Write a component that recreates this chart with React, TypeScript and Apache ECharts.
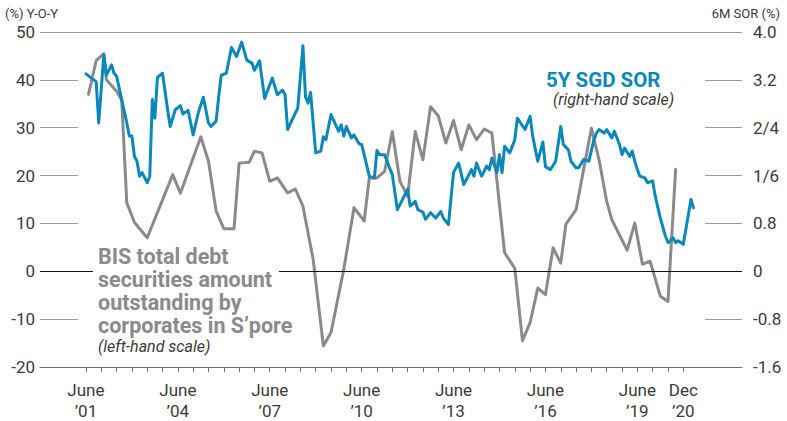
import { useEffect, useRef } from "react";
import * as echarts from "echarts";

// ---- Data ----
// BIS total debt securities amount outstanding by corporates in S'pore, % Y-O-Y (left scale)
const bisDates = [
  "2001-07", "2001-10", "2002-01", "2002-02", "2002-06", "2002-08", "2002-10", "2003-01", "2003-06",
  "2004-04", "2004-07", "2005-03", "2005-06", "2005-09", "2005-12", "2006-04", "2006-06", "2006-10",
  "2006-12", "2007-03", "2007-06", "2007-09", "2008-01", "2008-04", "2008-07", "2008-11", "2009-03",
  "2009-06", "2009-11", "2010-03", "2010-07", "2010-09", "2010-12", "2011-03", "2011-06", "2011-09",
  "2011-12", "2012-03", "2012-06", "2012-09", "2012-12", "2013-03", "2013-06", "2013-09", "2013-12",
  "2014-03", "2014-06", "2014-09", "2015-02", "2015-06", "2015-09", "2015-12", "2016-03", "2016-06",
  "2016-09", "2016-12", "2017-02", "2017-06", "2017-12", "2018-03", "2018-06", "2018-08", "2019-02",
  "2019-05", "2019-08", "2019-11", "2020-03", "2020-06", "2020-09",
];
const bisValues = [
  37, 44, 45.5, 40, 37.6, 35.8, 14.3, 10.2, 7.0,
  20.2, 16.3, 28.1, 23, 12.6, 8.9, 8.9, 22.6, 22.8,
  25.1, 24.7, 18.8, 19.5, 16.4, 17.2, 13.6, 2.5, -15.6,
  -12.8, 0.4, 13.3, 10.5, 19.5, 19.5, 20.9, 29.2, 18.8,
  15.7, 29.2, 23.3, 34.4, 32.5, 26.8, 31.5, 25.4, 30.6,
  27.5, 29.7, 28.9, 3.9, 0.6, -14.5, -10.7, -3.5, -4.9,
  4.9, 1.7, 9.8, 12.9, 29.9, 23.3, 14.6, 10.8, 4.4,
  10.1, 1.5, 2.1, -5.2, -6.3, 21.3,
];

// 5Y SGD SOR, % (right scale)
const sorDates = [
  "2001-06", "2001-10", "2001-11", "2002-01", "2002-02", "2002-04", "2002-05", "2002-06", "2002-08",
  "2002-10", "2002-11", "2002-12", "2003-01", "2003-02", "2003-03", "2003-04", "2003-06", "2003-07",
  "2003-08", "2003-09", "2003-10", "2003-12", "2004-02", "2004-03", "2004-05", "2004-07", "2004-08",
  "2004-10", "2004-12", "2005-02", "2005-04", "2005-06", "2005-07", "2005-09", "2005-10", "2005-11",
  "2006-01", "2006-03", "2006-05", "2006-07", "2006-09", "2006-11", "2006-12", "2007-02", "2007-04",
  "2007-07", "2007-09", "2007-11", "2007-12", "2008-01", "2008-05", "2008-07", "2008-08", "2008-09",
  "2008-10", "2008-12", "2009-02", "2009-03", "2009-04", "2009-06", "2009-09", "2009-10", "2009-11",
  "2009-12", "2010-02", "2010-03", "2010-05", "2010-06", "2010-09", "2010-11", "2010-12", "2011-01",
  "2011-03", "2011-05", "2011-06", "2011-08", "2011-12", "2012-01", "2012-03", "2012-04", "2012-06",
  "2012-07", "2012-09", "2012-11", "2013-01", "2013-02", "2013-04", "2013-06", "2013-08", "2013-10",
  "2013-11", "2014-01", "2014-02", "2014-03", "2014-05", "2014-07", "2014-08", "2014-09", "2014-11",
  "2014-12", "2015-01", "2015-02", "2015-04", "2015-06", "2015-07", "2015-10", "2015-12", "2016-01",
  "2016-03", "2016-05", "2016-06", "2016-08", "2016-10", "2016-12", "2017-01", "2017-03", "2017-04",
  "2017-06", "2017-07", "2017-09", "2017-11", "2018-01", "2018-02", "2018-03", "2018-05", "2018-06",
  "2018-08", "2018-09", "2018-11", "2018-12", "2019-01", "2019-03", "2019-04", "2019-05", "2019-06",
  "2019-07", "2019-09", "2019-10", "2019-12", "2020-01", "2020-03", "2020-05", "2020-06", "2020-08",
  "2020-09", "2020-10", "2020-12", "2021-01", "2021-03", "2021-04",
];
const sorValues = [
  3.30, 3.17, 2.48, 3.62, 3.28, 3.45, 3.31, 3.26, 2.87,
  2.48, 2.26, 2.26, 1.92, 1.84, 1.59, 1.65, 1.48, 1.59,
  2.87, 2.56, 3.24, 3.31, 2.70, 2.42, 2.70, 2.77, 2.63,
  2.69, 2.28, 2.65, 2.91, 2.48, 2.42, 2.51, 2.92, 3.28,
  3.31, 3.74, 3.59, 3.83, 3.53, 3.48, 3.36, 3.52, 2.89,
  3.23, 2.95, 3.03, 2.95, 2.37, 2.73, 3.77, 2.92, 2.81,
  2.99, 1.98, 2.01, 2.25, 2.20, 2.62, 2.34, 2.45, 2.26,
  2.42, 2.23, 2.28, 2.13, 2.12, 1.59, 1.56, 2.02, 1.95,
  1.95, 1.72, 1.62, 1.03, 1.37, 1.09, 1.17, 1.03, 0.99,
  0.87, 0.98, 0.89, 1.00, 0.89, 0.78, 1.65, 1.81, 1.45,
  1.53, 1.70, 1.59, 1.81, 1.59, 1.76, 1.70, 1.89, 1.65,
  1.95, 1.65, 2.09, 1.98, 2.20, 2.56, 2.37, 2.59, 2.26,
  1.84, 2.16, 1.75, 1.70, 1.84, 2.42, 2.12, 2.03, 1.84,
  1.73, 1.73, 1.87, 1.84, 2.20, 2.31, 2.37, 2.31, 2.37,
  2.23, 2.34, 2.12, 1.95, 2.06, 1.92, 2.01, 1.84, 1.70,
  1.59, 1.56, 1.48, 1.51, 1.26, 0.89, 0.59, 0.48, 0.56,
  0.48, 0.51, 0.45, 0.70, 1.20, 1.06,
];

// Axes
const xStart = "1999-12";
const xEnd = "2022-11";
const xTickStart = "2001-06";
const xTickEnd = "2020-12";
const xLabelDates = ["2001-06", "2004-06", "2007-06", "2010-06", "2013-06", "2016-06", "2019-06", "2020-12"];
const xLabelTexts = ["June\n’01", "June\n’04", "June\n’07", "June\n’10", "June\n’13", "June\n’16", "June\n’19", "Dec\n’20"];
const leftMin = -20;
const leftMax = 50;
const leftStep = 10;
const rightMin = -1.6;
const rightMax = 4.0;
const rightStep = 0.8;
const rightTickLabels = ["-1.6", "-0.8", "0", "0.8", "1/6", "2/4", "3.2", "4.0"];
const shortGridValues = [40, 30, 20, 10, -10];

// months since June 2001
const toM = (d: string) => {
  const [y, m] = d.split("-").map(Number);
  return (y - 2001) * 12 + (m - 6);
};

const BLUE = "#0a87bb";
const GREY = "#8a8a8c";
const TEXT = "#3a3a3a";
const GRID = "#999999";
const AXIS = "#6e6e6e";
const FONT = "Roboto, 'Liberation Sans', sans-serif";

export default function App() {
  const ref = useRef<HTMLDivElement>(null);

  useEffect(() => {
    if (!ref.current) return;
    const chart = echarts.init(ref.current, undefined, { renderer: "svg" });
    const xMin = toM(xStart);
    const xMax = toM(xEnd);
    const tickVals: number[] = [];
    for (let m = toM(xTickStart); m <= toM(xTickEnd); m += 6) tickVals.push(m);
    const labelVals = xLabelDates.map(toM);
    const segL = 15;
    const segR = 14.5;

    const gridLines: any[] = [];
    shortGridValues.forEach((v) => {
      gridLines.push([{ coord: [xMin, v] }, { coord: [xMin + segL, v] }]);
      gridLines.push([{ coord: [xMax - segR, v] }, { coord: [xMax, v] }]);
    });
    gridLines.push([{ coord: [xMin, leftMax] }, { coord: [xMax, leftMax] }]);
    gridLines.push([
      { coord: [xMin, 0], lineStyle: { color: "#111", width: 1 } },
      { coord: [xMax, 0] },
    ]);

    chart.setOption({
      animation: false,
      textStyle: { fontFamily: FONT },
      grid: { left: 40, right: 45, top: 32, bottom: 53 },
      xAxis: {
        type: "value",
        min: xMin,
        max: xMax,
        splitLine: { show: false },
        axisLine: { show: true, onZero: false, lineStyle: { color: AXIS, width: 1 } },
        axisTick: { show: true, customValues: tickVals, length: 5, lineStyle: { color: AXIS, width: 1 } },
        axisLabel: {
          customValues: labelVals,
          margin: 12,
          fontSize: 17,
          lineHeight: 21,
          color: TEXT,
          fontFamily: FONT,
          formatter: (v: number) => {
            const i = labelVals.indexOf(Math.round(v));
            return i >= 0 ? xLabelTexts[i] : "";
          },
        },
      },
      yAxis: [
        {
          type: "value",
          min: leftMin,
          max: leftMax,
          interval: leftStep,
          splitLine: { show: false },
          axisLine: { show: false },
          axisTick: { show: false },
          axisLabel: { margin: 5, fontSize: 17, color: TEXT, fontFamily: FONT },
        },
        {
          type: "value",
          min: rightMin,
          max: rightMax,
          interval: rightStep,
          position: "right",
          splitLine: { show: false },
          axisLine: { show: false },
          axisTick: { show: false },
          axisLabel: {
            margin: 11,
            fontSize: 17,
            color: TEXT,
            fontFamily: FONT,
            formatter: (v: number) => {
              const i = Math.round((v - rightMin) / rightStep);
              return rightTickLabels[i] ?? "";
            },
          },
        },
      ],
      series: [
        {
          type: "line",
          name: "grid",
          data: [],
          z: 1,
          silent: true,
          markLine: {
            silent: true,
            symbol: ["none", "none"],
            label: { show: false },
            lineStyle: { color: GRID, width: 1, type: "solid" },
            emphasis: { disabled: true },
            data: gridLines,
          },
        },
        {
          type: "line",
          name: "BIS",
          yAxisIndex: 0,
          z: 3,
          symbol: "none",
          lineStyle: { color: GREY, width: 3, join: "round", cap: "round" },
          data: bisDates.map((d, i) => [toM(d), bisValues[i]]),
        },
        {
          type: "line",
          name: "5Y SGD SOR",
          yAxisIndex: 1,
          z: 4,
          symbol: "none",
          lineStyle: { color: BLUE, width: 3, join: "round", cap: "round" },
          data: sorDates.map((d, i) => [toM(d), sorValues[i]]),
        },
      ],
      graphic: [
        {
          type: "text",
          x: 5,
          y: 7,
          z: 100,
          style: { text: "(%) Y-O-Y", fontSize: 13, fill: TEXT, fontFamily: FONT },
        },
        {
          type: "text",
          x: 780,
          y: 7,
          z: 100,
          style: { text: "6M SOR (%)", fontSize: 13, fill: TEXT, fontFamily: FONT, textAlign: "right" },
        },
        {
          type: "rect",
          z: 90,
          shape: { x: 93, y: 268, width: 186, height: 8 },
          style: { fill: "#ffffff" },
        },
        {
          type: "text",
          x: 98,
          y: 245,
          z: 100,
          style: {
            text: "BIS total debt\nsecurities amount\noutstanding by\ncorporates in S’pore",
            fontSize: 21.5,
            fontWeight: "bold",
            lineHeight: 23,
            fill: GREY,
            fontFamily: FONT,
          },
        },
        {
          type: "text",
          x: 98,
          y: 338,
          z: 100,
          style: { text: "(left-hand scale)", fontSize: 16, fontStyle: "italic", fill: TEXT, fontFamily: FONT },
        },
        {
          type: "text",
          x: 546,
          y: 69,
          z: 100,
          style: { text: "5Y SGD SOR", fontSize: 20.5, fontWeight: "bold", fill: BLUE, fontFamily: FONT },
        },
        {
          type: "text",
          x: 553,
          y: 91,
          z: 100,
          style: { text: "(right-hand scale)", fontSize: 16, fontStyle: "italic", fill: TEXT, fontFamily: FONT },
        },
      ],
    });
    return () => chart.dispose();
  }, []);

  return (
    <div
      ref={ref}
      style={{ position: "fixed", left: 0, top: 0, width: 787, height: 421, background: "#fff" }}
    />
  );
}
